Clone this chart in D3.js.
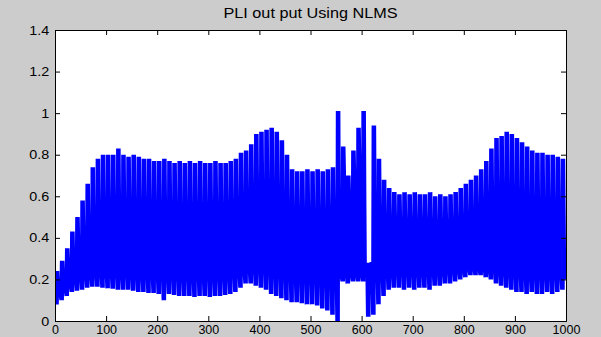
<!DOCTYPE html>
<html>
<head>
<meta charset="utf-8">
<script src="https://cdn.jsdelivr.net/npm/d3@7/dist/d3.min.js"></script>
<style>
  html, body { margin: 0; padding: 0; background: #cccccc; }
  svg { display: block; }
  text { font-family: "Liberation Sans", Arial, sans-serif; fill: #000; }
</style>
</head>
<body>
<svg id="chart" width="601" height="337"></svg>
<script>
// ---- data (one entry per 10-sample cycle, cycle k = samples 10k..10k+9) ----
const title = "PLI out put Using NLMS";
const xTicks = [0, 100, 200, 300, 400, 500, 600, 700, 800, 900, 1000];
const yTicks = [0, 0.2, 0.4, 0.6, 0.8, 1, 1.2, 1.4];
const cycleLength = 10;

// upper envelope (peaks) per cycle
const upperEnv = [
  0.24, 0.29, 0.35, 0.43, 0.50, 0.58, 0.66, 0.74, 0.78, 0.80,
  0.80, 0.80, 0.83, 0.80, 0.79, 0.80, 0.79, 0.78, 0.78, 0.77,
  0.77, 0.78, 0.77, 0.76, 0.77, 0.76, 0.77, 0.76, 0.77, 0.76,
  0.76, 0.77, 0.76, 0.76, 0.77, 0.78, 0.81, 0.82, 0.85, 0.90,
  0.91, 0.92, 0.93, 0.91, 0.87, 0.80, 0.73, 0.72, 0.72, 0.73,
  0.72, 0.73, 0.72, 0.73, 0.74, 1.01, 0.84, 0.70, 0.82, 0.93,
  1.01, 0.28, 0.94, 0.78, 0.68, 0.64, 0.62, 0.61, 0.62, 0.61,
  0.62, 0.61, 0.61, 0.62, 0.60, 0.61, 0.60, 0.61, 0.62, 0.64,
  0.66, 0.68, 0.70, 0.73, 0.77, 0.83, 0.88, 0.89, 0.91, 0.90,
  0.88, 0.86, 0.84, 0.82, 0.81, 0.81, 0.80, 0.80, 0.79, 0.78
];
// top of the solid middle band per cycle
const bandTop = [
  0.18, 0.22, 0.27, 0.30, 0.35, 0.38, 0.42, 0.46, 0.50, 0.52,
  0.52, 0.53, 0.52, 0.52, 0.53, 0.52, 0.52, 0.53, 0.52, 0.52,
  0.52, 0.51, 0.52, 0.51, 0.50, 0.51, 0.50, 0.51, 0.50, 0.51,
  0.50, 0.51, 0.50, 0.51, 0.52, 0.53, 0.55, 0.57, 0.59, 0.60,
  0.60, 0.60, 0.59, 0.58, 0.56, 0.53, 0.50, 0.50, 0.49, 0.50,
  0.49, 0.50, 0.49, 0.50, 0.49, 0.50, 0.72, 0.60, 0.70, 0.76,
  0.55, 0.28, 0.55, 0.50, 0.48, 0.48, 0.47, 0.47, 0.46, 0.47,
  0.46, 0.47, 0.46, 0.46, 0.45, 0.46, 0.45, 0.46, 0.46, 0.47,
  0.48, 0.50, 0.52, 0.54, 0.56, 0.57, 0.58, 0.58, 0.57, 0.56,
  0.55, 0.54, 0.53, 0.53, 0.52, 0.52, 0.52, 0.51, 0.51, 0.50
];
// bottom of the solid middle band per cycle
const bandBottom = [
  0.12, 0.14, 0.16, 0.18, 0.19, 0.20, 0.20, 0.21, 0.21, 0.21,
  0.21, 0.21, 0.20, 0.21, 0.20, 0.20, 0.20, 0.20, 0.20, 0.20,
  0.20, 0.19, 0.20, 0.20, 0.19, 0.20, 0.19, 0.20, 0.19, 0.20,
  0.19, 0.20, 0.20, 0.20, 0.21, 0.21, 0.22, 0.23, 0.23, 0.23,
  0.23, 0.22, 0.21, 0.21, 0.20, 0.20, 0.19, 0.19, 0.19, 0.19,
  0.19, 0.18, 0.18, 0.17, 0.16, 0.21, 0.21, 0.21, 0.21, 0.21,
  0.21, 0.20, 0.20, 0.20, 0.21, 0.21, 0.22, 0.22, 0.22, 0.22,
  0.22, 0.22, 0.22, 0.22, 0.22, 0.22, 0.23, 0.23, 0.23, 0.23,
  0.24, 0.24, 0.24, 0.24, 0.23, 0.23, 0.22, 0.22, 0.21, 0.21,
  0.21, 0.20, 0.20, 0.20, 0.20, 0.20, 0.20, 0.20, 0.20, 0.20
];
// lower envelope (troughs) per cycle
const lowerEnv = [
  0.08, 0.10, 0.12, 0.14, 0.145, 0.15, 0.16, 0.165, 0.165, 0.16,
  0.157, 0.155, 0.15, 0.15, 0.15, 0.145, 0.14, 0.14, 0.135, 0.135,
  0.13, 0.10, 0.13, 0.125, 0.12, 0.12, 0.12, 0.115, 0.12, 0.12,
  0.115, 0.12, 0.12, 0.125, 0.13, 0.14, 0.16, 0.18, 0.18, 0.17,
  0.16, 0.15, 0.13, 0.12, 0.11, 0.10, 0.09, 0.09, 0.085, 0.08,
  0.08, 0.075, 0.06, 0.05, 0.03, 0.00, 0.19, 0.18, 0.19, 0.19,
  0.19, 0.02, 0.03, 0.08, 0.12, 0.15, 0.16, 0.16, 0.15, 0.16,
  0.15, 0.16, 0.16, 0.15, 0.17, 0.17, 0.18, 0.18, 0.19, 0.20,
  0.21, 0.22, 0.22, 0.22, 0.21, 0.20, 0.18, 0.17, 0.16, 0.15,
  0.14, 0.14, 0.13, 0.14, 0.13, 0.13, 0.14, 0.13, 0.14, 0.15
];
// order in which a cycle's samples visit the envelopes
const cyclePattern = ["L", "U", "L", "U", "L", "U", "L", "U", "T", "B"];

// ---- layout ----
const svg = d3.select("#chart");
const W = 601, H = 337;
const margin = { left: 55, right: W - 566, top: 30, bottom: H - 321 };

const x = d3.scaleLinear().domain([0, 1000]).range([margin.left, W - margin.right]);
const y = d3.scaleLinear().domain([0, 1.4]).range([H - margin.bottom, margin.top]);

// plot area
svg.append("rect")
  .attr("x", x(0)).attr("y", y(1.4))
  .attr("width", x(1000) - x(0)).attr("height", y(0) - y(1.4))
  .attr("fill", "#ffffff");

// build the sample series from the envelope arrays
const envByKey = { U: upperEnv, T: bandTop, B: bandBottom, L: lowerEnv };
const series = [];
upperEnv.forEach((_, k) => {
  cyclePattern.forEach((key, j) => {
    series.push({ s: k * cycleLength + j, v: envByKey[key][k] });
  });
});

svg.append("clipPath").attr("id", "plotclip").append("rect")
  .attr("x", x(0)).attr("y", y(1.4))
  .attr("width", x(1000) - x(0)).attr("height", y(0) - y(1.4));

svg.append("path")
  .datum(series)
  .attr("clip-path", "url(#plotclip)")
  .attr("fill", "none")
  .attr("stroke", "#0000ff")
  .attr("stroke-width", 1.5)
  .attr("stroke-linejoin", "miter")
  .attr("d", d3.line().x(d => x(d.s)).y(d => y(d.v)));

// axes (MATLAB style, ticks inside on all four sides)
const fmtY = d => (d === 0 || d === 1) ? String(d) : d3.format(".1f")(d);

const gB = svg.append("g").attr("transform", `translate(0,${y(0)})`)
  .call(d3.axisBottom(x).tickValues(xTicks).tickSize(-5).tickPadding(4).tickFormat(d3.format("d")));
const gT = svg.append("g").attr("transform", `translate(0,${y(1.4)})`)
  .call(d3.axisTop(x).tickValues(xTicks).tickSize(-5).tickFormat(""));
const gL = svg.append("g").attr("transform", `translate(${x(0)},0)`)
  .call(d3.axisLeft(y).tickValues(yTicks).tickSize(-5).tickPadding(5).tickFormat(fmtY));
const gR = svg.append("g").attr("transform", `translate(${x(1000)},0)`)
  .call(d3.axisRight(y).tickValues(yTicks).tickSize(-5).tickFormat(""));

[gB, gT, gL, gR].forEach(g => {
  g.select(".domain").attr("stroke", "#000").attr("stroke-width", 1);
  g.selectAll(".tick line").attr("stroke", "#000");
  g.selectAll(".tick text").attr("font-size", 12.5)
    .attr("font-family", '"Liberation Sans", Arial, sans-serif').attr("fill", "#000");
});
// y labels appear slightly wider in the reference
gL.selectAll(".tick text").attr("transform", "scale(1.15,1)");

// title
svg.append("text")
  .attr("transform", `translate(${(x(0) + x(1000)) / 2},18) scale(1.12,1)`)
  .attr("text-anchor", "middle")
  .attr("font-size", 14.5)
  .text(title);
</script>
</body>
</html>
